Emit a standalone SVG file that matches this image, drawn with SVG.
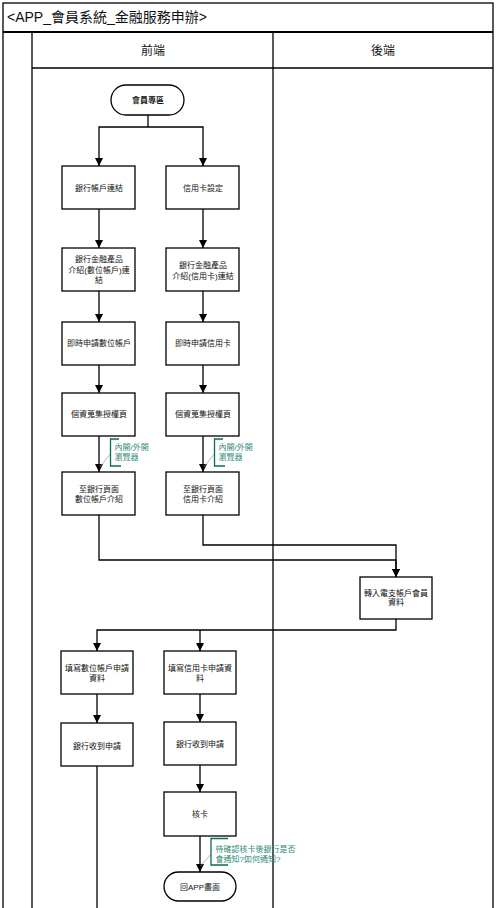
<svg xmlns="http://www.w3.org/2000/svg" width="497" height="908" viewBox="0 0 497 908">
<style>
.frame{fill:none;stroke:#000;stroke-width:1.3}
.box{fill:#fff;stroke:#000;stroke-width:1.3}
.t{font-family:"Liberation Sans","Noto Sans CJK TC",sans-serif;font-size:8px;fill:#111;text-anchor:middle}
.tb{font-weight:bold}
.hdr{font-family:"Liberation Sans","Noto Sans CJK TC",sans-serif;font-size:12px;fill:#111;text-anchor:middle}
.title{font-family:"Liberation Sans","Noto Sans CJK TC",sans-serif;font-size:14px;fill:#111}
.c{fill:none;stroke:#000;stroke-width:1.3}
.ann{font-family:"Liberation Sans","Noto Sans CJK TC",sans-serif;font-size:8px;fill:#2F8A78}
.br{fill:none;stroke:#0B6E4F;stroke-width:1.3}
.lead{fill:none;stroke:#999;stroke-width:0.7}
</style>
<defs>
<marker id="arr" viewBox="0 0 8 8" refX="8" refY="4" markerWidth="8" markerHeight="8" markerUnits="userSpaceOnUse" orient="auto">
<path d="M0,0 L8,4 L0,8 Z" fill="#000"/>
</marker>
</defs>
<rect width="497" height="908" fill="#fff"/>
<g id="frame">
<rect class="frame" x="3" y="3" width="490" height="915"/>
<line x1="3" y1="32" x2="493" y2="32" stroke="#000" stroke-width="2"/>
<line class="frame" x1="32" y1="32" x2="32" y2="908"/>
<line class="frame" x1="273" y1="32" x2="273" y2="908"/>
<line class="frame" x1="32" y1="68" x2="493" y2="68"/>
<text class="title" x="7" y="22">&lt;APP_會員系統_金融服務申辦&gt;</text>
<text class="hdr" x="153" y="55">前端</text>
<text class="hdr" x="383" y="55">後端</text>
</g>
<g id="connectors">
<path class="c" d="M148,115 V127"/>
<path class="c" d="M148,127 H99 V166" marker-end="url(#arr)"/>
<path class="c" d="M148,127 H203 V166" marker-end="url(#arr)"/>
<path class="c" d="M99,209 V248" marker-end="url(#arr)"/>
<path class="c" d="M203,209 V248" marker-end="url(#arr)"/>
<path class="c" d="M99,291 V322" marker-end="url(#arr)"/>
<path class="c" d="M203,291 V322" marker-end="url(#arr)"/>
<path class="c" d="M99,365 V393" marker-end="url(#arr)"/>
<path class="c" d="M203,365 V393" marker-end="url(#arr)"/>
<path class="c" d="M99,436 V472" marker-end="url(#arr)"/>
<path class="c" d="M203,436 V472" marker-end="url(#arr)"/>
<path class="c" d="M99,515 V560 H396 V577" marker-end="url(#arr)"/>
<path class="c" d="M203,515 V545 H396 V577" marker-end="url(#arr)"/>
<path class="c" d="M396,619 V630 H97 V651" marker-end="url(#arr)"/>
<path class="c" d="M200,630 V651" marker-end="url(#arr)"/>
<path class="c" d="M97,694 V723" marker-end="url(#arr)"/>
<path class="c" d="M200,694 V722" marker-end="url(#arr)"/>
<path class="c" d="M97,766 V910"/>
<path class="c" d="M200,765 V792" marker-end="url(#arr)"/>
<path class="c" d="M200,836 V872" marker-end="url(#arr)"/>
</g>
<g id="start">
<rect class="box" x="111" y="85" width="73" height="30" rx="15"/>
<text class="t tb" x="148" y="103">會員專區</text>
</g>
<g id="n1">
<rect class="box" x="62" y="166" width="73" height="43"/>
<text class="t" x="99" y="190.5">銀行帳戶連結</text>
</g>
<g id="n2">
<rect class="box" x="166" y="166" width="73" height="43"/>
<text class="t" x="203" y="190.5">信用卡設定</text>
</g>
<g id="n3">
<rect class="box" x="62" y="248" width="73" height="43"/>
<text class="t" x="99" y="262">銀行金融產品</text>
<text class="t" x="99" y="272.5">介紹(數位帳戶)連</text>
<text class="t" x="99" y="283">結</text>
</g>
<g id="n4">
<rect class="box" x="166" y="248" width="73" height="43"/>
<text class="t" x="203" y="268">銀行金融產品</text>
<text class="t" x="203" y="278.5">介紹(信用卡)連結</text>
</g>
<g id="n5">
<rect class="box" x="62" y="322" width="73" height="43"/>
<text class="t" x="99" y="346">即時申請數位帳戶</text>
</g>
<g id="n6">
<rect class="box" x="166" y="322" width="73" height="43"/>
<text class="t" x="203" y="346">即時申請信用卡</text>
</g>
<g id="n7">
<rect class="box" x="62" y="393" width="73" height="43"/>
<text class="t" x="99" y="417">個資蒐集授權頁</text>
</g>
<g id="n8">
<rect class="box" x="166" y="393" width="73" height="43"/>
<text class="t" x="203" y="417">個資蒐集授權頁</text>
</g>
<g id="n9">
<rect class="box" x="62" y="472" width="73" height="43"/>
<text class="t" x="99" y="492">至銀行頁面</text>
<text class="t" x="99" y="501.5">數位帳戶介紹</text>
</g>
<g id="n10">
<rect class="box" x="166" y="472" width="73" height="43"/>
<text class="t" x="203" y="492">至銀行頁面</text>
<text class="t" x="203" y="501.5">信用卡介紹</text>
</g>
<g id="n11">
<rect class="box" x="360" y="577" width="72" height="42"/>
<text class="t" x="396" y="595.5">轉入電支帳戶會員</text>
<text class="t" x="396" y="605">資料</text>
</g>
<g id="n12">
<rect class="box" x="61" y="651" width="72" height="43"/>
<text class="t" x="97" y="671">填寫數位帳戶申請</text>
<text class="t" x="97" y="680.5">資料</text>
</g>
<g id="n13">
<rect class="box" x="164" y="651" width="72" height="43"/>
<text class="t" x="200" y="671">填寫信用卡申請資</text>
<text class="t" x="200" y="680.5">料</text>
</g>
<g id="n14">
<rect class="box" x="61" y="723" width="72" height="43"/>
<text class="t" x="97" y="748.5">銀行收到申請</text>
</g>
<g id="n15">
<rect class="box" x="164" y="722" width="72" height="43"/>
<text class="t" x="200" y="746.5">銀行收到申請</text>
</g>
<g id="n16">
<rect class="box" x="164" y="792" width="72" height="44"/>
<text class="t" x="200" y="817">核卡</text>
</g>
<g id="end">
<rect class="box" x="164" y="872" width="72" height="29" rx="14.5"/>
<text class="t" x="200" y="890">回APP畫面</text>
</g>
<g id="note1">
<path class="lead" d="M110.5,454 L99.5,467"/>
<path class="br" d="M119,439 H110.5 V466 H121"/>
<text class="ann" x="114.5" y="450">內開/外開</text>
<text class="ann" x="114.5" y="460">瀏覽器</text>
</g>
<g id="note2">
<path class="lead" d="M214.5,454 L203.5,467"/>
<path class="br" d="M223,439 H214.5 V466 H225"/>
<text class="ann" x="218.5" y="450">內開/外開</text>
<text class="ann" x="218.5" y="460">瀏覽器</text>
</g>
<g id="note3">
<path class="lead" d="M211,854 L200.5,866"/>
<path class="br" d="M228,838.5 H211 V865 H228"/>
<text class="ann" x="215.5" y="852">待確認核卡後銀行是否</text>
<text class="ann" x="215.5" y="861.5">會通知?如何通知?</text>
</g>
</svg>
